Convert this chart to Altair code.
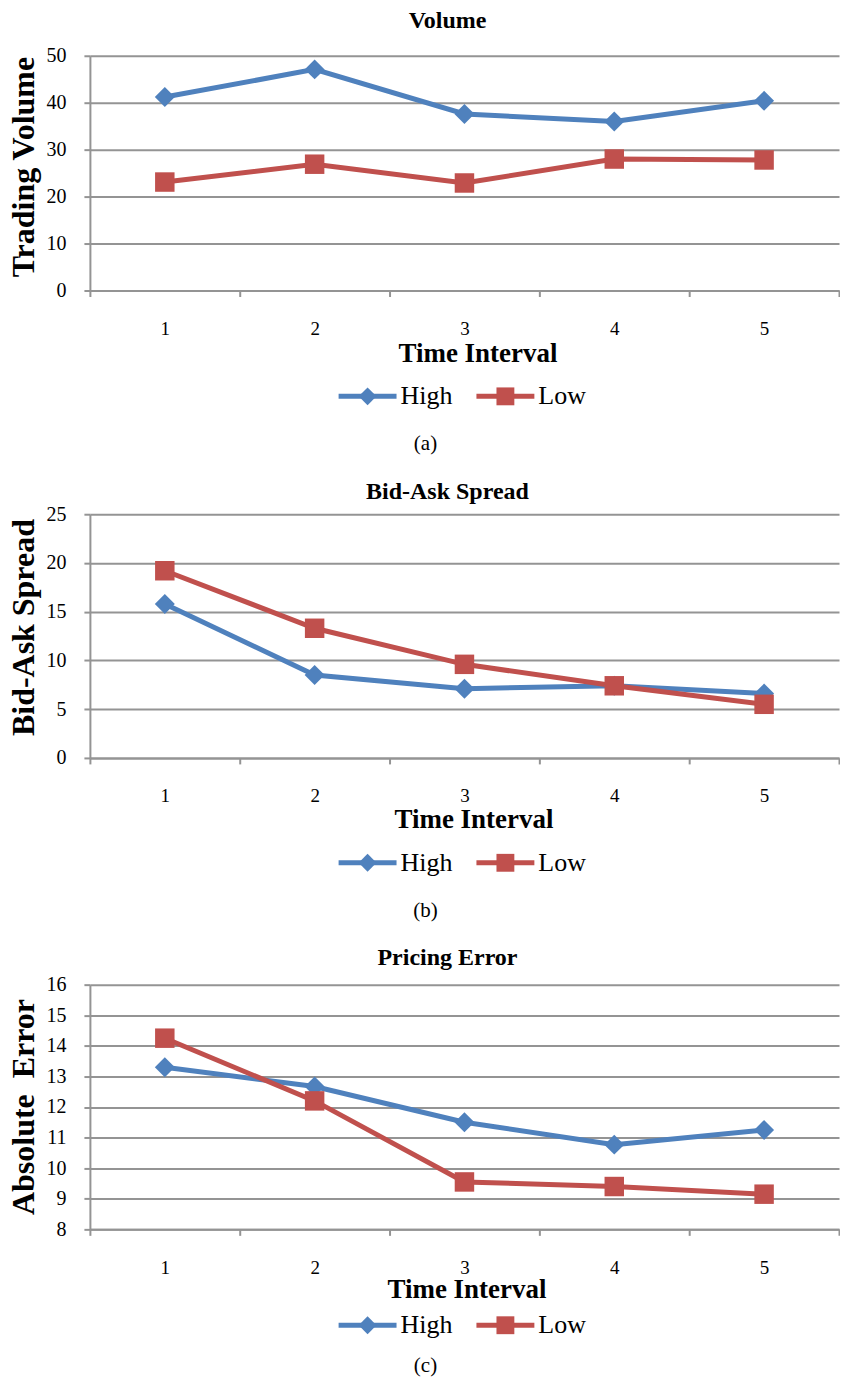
import altair as alt
import pandas as pd

# ---- data ----
intervals = [1, 2, 3, 4, 5]
series = ["High", "Low"]

volume_high = [41.2, 47.1, 37.6, 36.0, 40.4]
volume_low = [23.1, 26.9, 22.9, 28.0, 27.8]

spread_high = [15.8, 8.5, 7.1, 7.4, 6.6]
spread_low = [19.2, 13.3, 9.6, 7.4, 5.5]

error_high = [13.3, 12.67, 11.5, 10.77, 11.25]
error_low = [14.25, 12.2, 9.55, 9.4, 9.15]

volume_ticks = [0, 10, 20, 30, 40, 50]
spread_ticks = [0, 5, 10, 15, 20, 25]
error_ticks = [8, 9, 10, 11, 12, 13, 14, 15, 16]

panel_titles = ["Volume", "Bid-Ask Spread", "Pricing Error"]
y_titles = ["Trading Volume", "Bid-Ask Spread", "Absolute\u00a0\u00a0Error"]
x_title = "Time Interval"
captions = ["(a)", "(b)", "(c)"]

# ---- style ----
FONT = "Liberation Serif"
BLUE = "#4F81BD"
RED = "#C0504D"
GRID = "#949494"
W = 750

# legend layout (pixels, relative to the plot's left edge)
LEG_X0 = 278      # centre of first legend symbol
LEG_STEP = 138    # distance between legend entries
LEG_HALF = 29     # half length of legend line
LEG_LABEL = 33    # label start relative to symbol centre


def panel(high, low, title, ytitle, ticks, caption, H, title_offset,
          xtitle_pad, xtitle_x, ytitle_y, legend_dy, caption_dy):
    df = pd.DataFrame({
        "Time": intervals * 2,
        "Series": [series[0]] * len(intervals) + [series[1]] * len(intervals),
        "Value": high + low,
    })
    x = alt.X(
        "Time:O",
        scale=alt.Scale(type="band", paddingInner=0, paddingOuter=0),
        axis=alt.Axis(
            title=x_title, labelAngle=0, tickBand="extent", tickSize=6,
            labelPadding=23, titlePadding=xtitle_pad, titleX=xtitle_x,
            labelFontSize=19, labelFont=FONT, grid=False,
        ),
    )
    y = alt.Y(
        "Value:Q",
        scale=alt.Scale(domain=[ticks[0], ticks[-1]], nice=False, zero=False),
        axis=alt.Axis(
            title=ytitle, values=ticks, tickSize=6, labelPadding=18,
            titlePadding=5, titleY=ytitle_y, grid=True, labelFontSize=20,
            labelFont=FONT,
        ),
    )
    color = alt.Color(
        "Series:N", scale=alt.Scale(domain=series, range=[BLUE, RED]), legend=None
    )
    shape = alt.Shape(
        "Series:N", scale=alt.Scale(domain=series, range=["diamond", "square"]),
        legend=None,
    )
    base = alt.Chart(df)
    lines = base.mark_line(strokeWidth=5).encode(x=x, y=y, color=color)
    pts_high = base.transform_filter(alt.datum.Series == series[0]).mark_point(
        filled=True, size=400, opacity=1, shape="diamond"
    ).encode(x=x, y=y, color=color)
    pts_low = base.transform_filter(alt.datum.Series == series[1]).mark_point(
        filled=True, size=380, opacity=1, shape="square"
    ).encode(x=x, y=y, color=color)

    # legend built from the series list
    leg = alt.Chart(pd.DataFrame({"Series": series, "idx": list(range(len(series)))})).transform_calculate(
        cx=f"{LEG_X0} + {LEG_STEP} * datum.idx",
        x0=f"{LEG_X0} + {LEG_STEP} * datum.idx - {LEG_HALF}",
        x1=f"{LEG_X0} + {LEG_STEP} * datum.idx + {LEG_HALF}",
        lx=f"{LEG_X0} + {LEG_STEP} * datum.idx + {LEG_LABEL}",
    )
    ly = alt.value(H + legend_dy)
    leg_line = leg.mark_rule(strokeWidth=5).encode(
        x=alt.X("x0:Q", scale=None), x2="x1:Q", y=ly, color=color
    )
    leg_sym = leg.mark_point(filled=True, size=320, opacity=1).encode(
        x=alt.X("cx:Q", scale=None), y=ly, color=color, shape=shape
    )
    leg_txt = leg.mark_text(
        font=FONT, fontSize=26, align="left", baseline="middle", color="black"
    ).encode(x=alt.X("lx:Q", scale=None), y=ly, text="Series:N")

    cap = alt.Chart(pd.DataFrame({"caption": [caption]})).mark_text(
        font=FONT, fontSize=21, align="center", baseline="middle", color="black"
    ).encode(x=alt.value(336), y=alt.value(H + caption_dy), text="caption:N")
    return alt.layer(lines, pts_high, pts_low, leg_line, leg_sym, leg_txt, cap).properties(
        width=W, height=H,
        title=alt.TitleParams(
            title, font=FONT, fontSize=24, fontWeight="bold", color="black",
            anchor="middle", dx=-17, offset=title_offset,
        ),
    )


pa = panel(volume_high, volume_low, panel_titles[0], y_titles[0], volume_ticks,
           captions[0], 235, 13, 2, 388, 111, 106, 154)
pb = panel(spread_high, spread_low, panel_titles[1], y_titles[1], spread_ticks,
           captions[1], 244, 0, 1, 384, 113, 105, 153)
pc = panel(error_high, error_low, panel_titles[2], y_titles[2], error_ticks,
           captions[2], 245, 5, -1, 377, 122, 96, 137)

top = alt.vconcat(pa, pb, spacing=26)
chart = alt.vconcat(top, pc, spacing=25).properties(padding=0).configure_view(
    stroke=None
).configure_axis(
    labelFont=FONT, titleFont=FONT, labelColor="black", titleColor="black",
    titleFontWeight="bold", titleFontSize=27, domainColor=GRID, tickColor=GRID,
    gridColor=GRID, domainWidth=2, tickWidth=2, gridWidth=2,
).configure_axisY(titleFontSize=32)

chart.save("out.html", embed_options={"renderer": "svg", "actions": False})
